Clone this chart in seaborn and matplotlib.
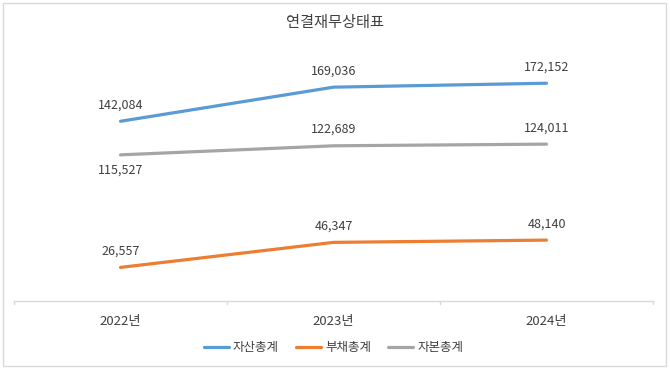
import matplotlib
matplotlib.use("Agg")
import matplotlib.pyplot as plt
import seaborn as sns
import pandas as pd
from matplotlib.patches import Rectangle

years = ["2022년", "2023년", "2024년"]
series_names = ["자산총계", "부채총계", "자본총계"]
assets = [142084, 169036, 172152]
liabilities = [26557, 46347, 48140]
equity = [115527, 122689, 124011]
colors = ["#5B9BD5", "#ED7D31", "#A5A5A5"]

sns.set_style("white")
plt.rcParams['font.family'] = ['Noto Sans CJK KR', 'DejaVu Sans']

df = pd.DataFrame({
    "year": years * 3,
    "series": [s for s in series_names for _ in years],
    "value": assets + liabilities + equity,
})

fig = plt.figure(figsize=(6.7, 3.69), dpi=100)
ax = fig.add_axes([14 / 670, 68 / 369, 639 / 670, 253 / 369])

sns.lineplot(data=df, x="year", y="value", hue="series", hue_order=series_names,
             palette=colors, linewidth=2.3, ax=ax, sort=False, legend=True)

ax.set_xlim(-0.5, 2.5)
ax.set_ylim(0, 200000)
ax.set_xlabel("")
ax.set_ylabel("")
ax.set_yticks([])
for s in ["left", "right", "top"]:
    ax.spines[s].set_visible(False)
ax.spines["bottom"].set_color("#D9D9D9")
ax.spines["bottom"].set_linewidth(1)
ax.set_xticks([0, 1, 2])
ax.set_xticklabels(years, fontsize=9.5, color="#404040")
ax.tick_params(axis="x", length=0, pad=10)
# boundary tick marks like Excel
for xb in [-0.5, 0.5, 1.5, 2.5]:
    ax.plot([xb, xb], [0, -2500], color="#D9D9D9", lw=1, clip_on=False)

num_font = dict(fontsize=9, color="#404040")
label_pos = {
    "자산총계": ["up", "up", "up"],
    "부채총계": ["up", "up", "up"],
    "자본총계": ["down", "up", "up"],
}
values = {"자산총계": assets, "부채총계": liabilities, "자본총계": equity}
for name in series_names:
    for i, v in enumerate(values[name]):
        if label_pos[name][i] == "up":
            ax.annotate(f"{v:,}", (i, v), xytext=(0, 7), textcoords="offset points",
                        ha="center", va="bottom", **num_font)
        else:
            ax.annotate(f"{v:,}", (i, v), xytext=(0, -6), textcoords="offset points",
                        ha="center", va="top", **num_font)

leg = ax.legend(loc="center", bbox_to_anchor=(0.5, (369 - 348 - 68) / 253),
                ncol=3, frameon=False, fontsize=9, handlelength=2.0,
                handletextpad=0.3, columnspacing=1.4)
for t in leg.get_texts():
    t.set_color("#404040")

fig.text(0.5, 1 - 22 / 369, "연결재무상태표", ha="center", va="center",
         fontsize=11, color="#404040")

fig.patches.append(Rectangle((3 / 670, 3 / 369), 663 / 670, 363 / 369,
                             transform=fig.transFigure, fill=False,
                             edgecolor="#D9D9D9", lw=1))

fig.savefig("out.png", dpi=100)
